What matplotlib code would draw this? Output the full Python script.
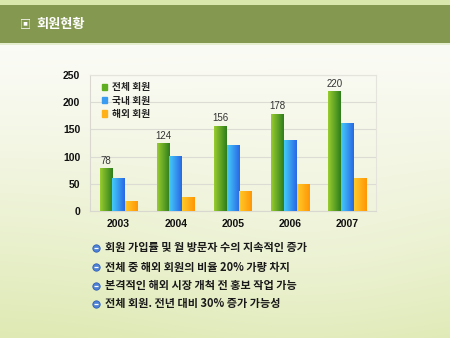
import numpy as np
import matplotlib
matplotlib.use("Agg")
import matplotlib.pyplot as plt
from matplotlib.colors import LinearSegmentedColormap
from matplotlib.patches import Rectangle

plt.rcParams['font.family'] = ['Noto Sans CJK KR', 'DejaVu Sans']

# ---- data ----
years = ['2003', '2004', '2005', '2006', '2007']
series_names = ['전체 회원', '국내 회원', '해외 회원']
total = [78, 124, 156, 178, 220]
domestic = [60, 100, 120, 130, 160]
overseas = [17, 24, 35, 48, 60]
yticks = [0, 50, 100, 150, 200, 250]
title = '회원현황'
bullets = ['회원 가입률 및 월 방문자 수의 지속적인 증가',
           '전체 중 해외 회원의 비율 20% 가량 차지',
           '본격적인 해외 시장 개척 전 홍보 작업 가능',
           '전체 회원. 전년 대비 30% 증가 가능성']

W, H = 450, 338
fig = plt.figure(figsize=(W / 100, H / 100), dpi=100)

# ---- background layer (pixel coordinates) ----
bg = fig.add_axes([0, 0, 1, 1], zorder=0)
bg.set_xlim(0, W)
bg.set_ylim(H, 0)
bg.axis('off')
yy, xx = np.mgrid[0:H, 0:W]
t = np.clip((yy - 45) / (H - 45), 0, 1)
top_c = np.array([0.985, 0.985, 0.965])
bot_c = np.array([0.87, 0.915, 0.70])
img = top_c[None, None, :] * (1 - t[..., None] ** 1.2) + bot_c[None, None, :] * (t[..., None] ** 1.2)
glow = np.exp(-(((xx - 300) / 180.0) ** 2 + ((yy - 200) / 160.0) ** 2))
img = img * (1 - 0.35 * glow[..., None]) + np.array([0.97, 0.975, 0.93]) * 0.35 * glow[..., None]
bg.imshow(img, extent=[0, W, H, 0], aspect='auto', zorder=0)
bg.set_xlim(0, W)
bg.set_ylim(H, 0)

# title band
bg.add_patch(Rectangle((0, 0), W, 5, color='#d9e7ad', zorder=1, lw=0))
bg.add_patch(Rectangle((0, 5), W, 38, color='#84994f', zorder=1, lw=0))
bg.add_patch(Rectangle((0, 43), W, 2, color='#e6eed0', zorder=1, lw=0))
bg.text(20, 24.5, '▣', color='white', fontsize=8, va='center', ha='left', zorder=2)
bg.text(36, 24, title, color='white', fontsize=9.5, fontweight='bold', va='center', ha='left', zorder=2)

# bullets
bullet_y = [248, 267, 286, 304]
for yb, txt in zip(bullet_y, bullets):
    bg.scatter([96], [yb], s=28, c='#4f82d6', edgecolors='#2f5fb5', linewidths=0.6, zorder=3)
    bg.scatter([96], [yb], s=10, marker='_', c='white', linewidths=0.9, zorder=4)
    bg.text(105, yb, txt, color='#1a1a1a', fontsize=8, fontweight='bold', va='center', ha='left', zorder=3)

# ---- chart ----
ax = fig.add_axes([90 / W, 1 - 211 / H, (376 - 90) / W, (211 - 75) / H], zorder=2)
ax.patch.set_alpha(0)
x = np.arange(len(years))
bw = 0.222
series = [total, domestic, overseas]
grads = [('#98cc30', '#2f7f1c'), ('#44cbf8', '#2a68e6'), ('#ffca2a', '#ff9606')]
legend_cols = ['#5fae22', '#3a9cf0', '#ffb11a']
handles = []
for i, (vals, (c1, c2), lc, name) in enumerate(zip(series, grads, legend_cols, series_names)):
    bars = ax.bar(x + (i - 1) * bw, vals, width=bw, color=lc, zorder=2, lw=0)
    cmap = LinearSegmentedColormap.from_list('g%d' % i, [c1, c2])
    for b in bars:
        ax.imshow(np.linspace(0, 1, 32)[None, :], cmap=cmap, aspect='auto',
                  extent=[b.get_x(), b.get_x() + b.get_width(), 0, b.get_height()], zorder=3)
    handles.append(Rectangle((0, 0), 1, 1, color=lc))

for xi, v in zip(x, total):
    ax.text(xi - bw, v + 5, str(v), ha='center', va='bottom', fontsize=7, color='#333333',
            family=['Liberation Sans', 'DejaVu Sans'])

ax.set_xlim(-0.5, len(years) - 0.5)
ax.set_ylim(0, 250)
ax.set_yticks(yticks)
ax.set_xticks(x)
ax.set_xticklabels(years)
ax.tick_params(length=0, labelsize=7.5, pad=6, colors='#111111')
for lab in ax.get_xticklabels() + ax.get_yticklabels():
    lab.set_fontweight('bold')
    lab.set_family(['Liberation Sans', 'DejaVu Sans'])
ax.tick_params(axis='y', pad=7)
ax.grid(axis='y', color='#dcdcd4', lw=0.8, zorder=0)
for s in ['left', 'bottom']:
    ax.spines[s].set_color('#d8d8d0')
    ax.spines[s].set_linewidth(0.8)
for s in ['top', 'right']:
    ax.spines[s].set_color('#e4e4dc')
    ax.spines[s].set_linewidth(0.8)

leg = ax.legend(handles, series_names, loc='upper left', frameon=False, fontsize=7,
                handlelength=0.6, handleheight=0.6, handletextpad=0.5, labelspacing=0.35,
                bbox_to_anchor=(0.02, 0.99), borderaxespad=0.2)
for tx in leg.get_texts():
    tx.set_fontweight('bold')
    tx.set_color('#222222')

fig.savefig('out.png', dpi=100)
